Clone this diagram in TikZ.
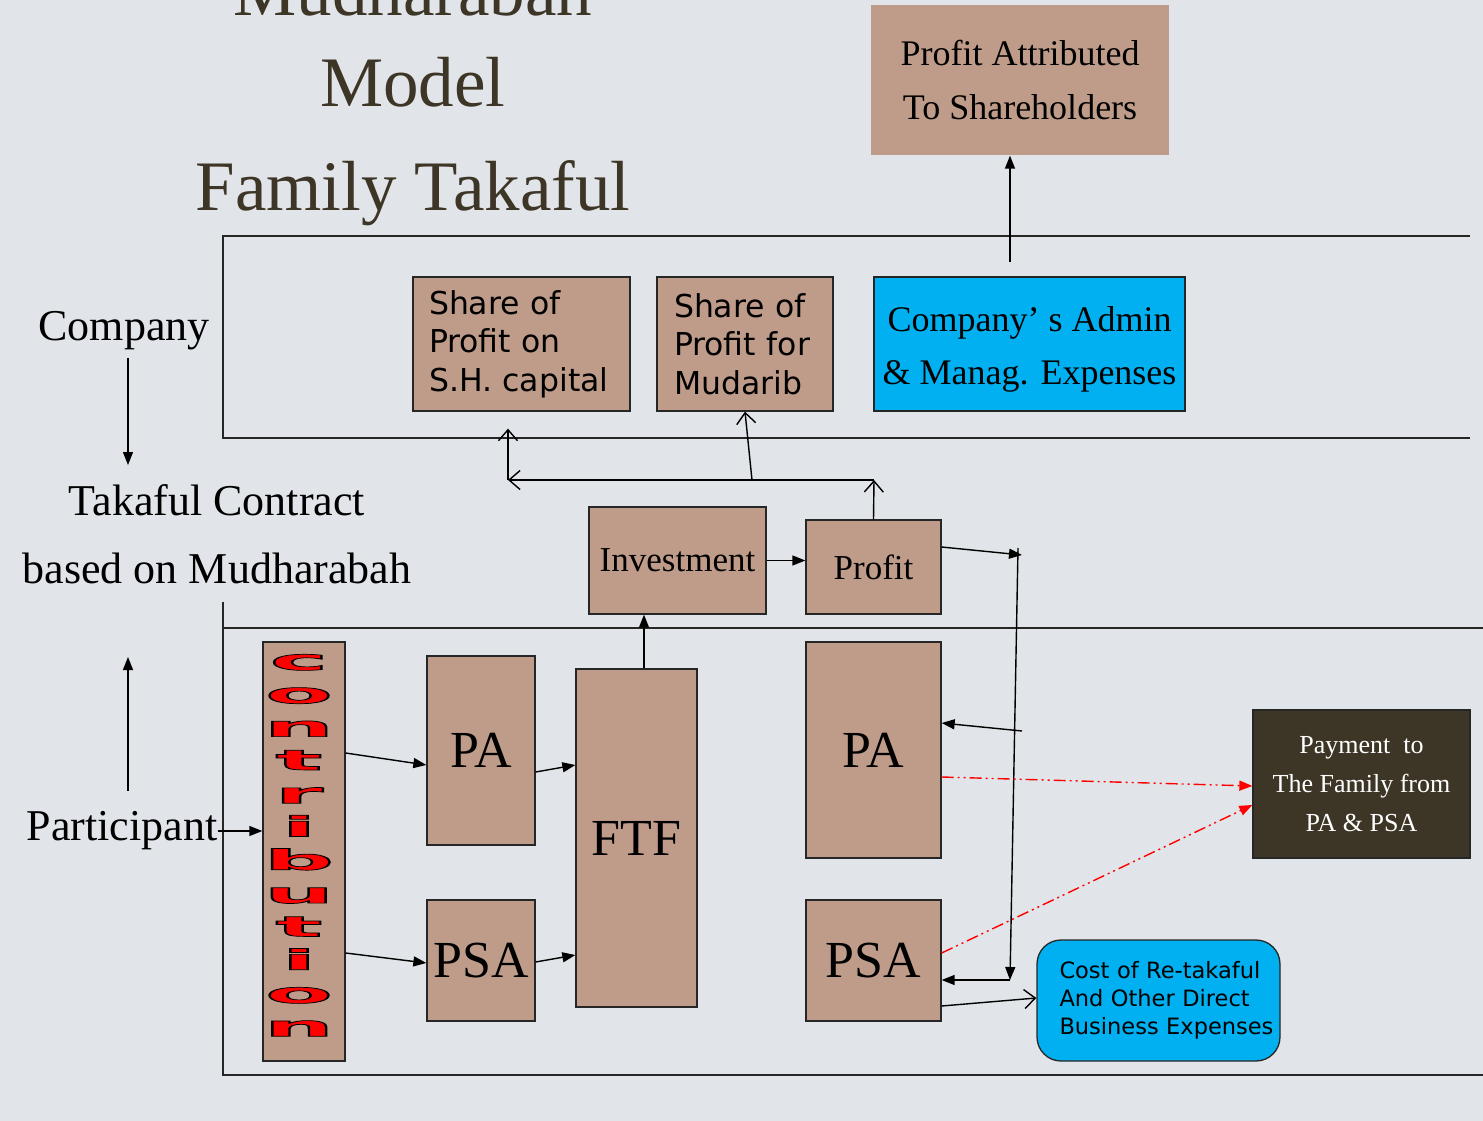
\documentclass[tikz,border=0pt]{standalone}
\usepackage{fontspec}
\setmainfont{Liberation Serif}
\newfontfamily\verdana{DejaVu Sans}
\usetikzlibrary{arrows.meta,positioning}
\definecolor{bgcol}{RGB}{225,229,233}
\definecolor{tanc}{RGB}{191,156,137}
\definecolor{skyc}{RGB}{0,176,240}
\definecolor{olivec}{RGB}{61,53,38}
% red letters with a black outline
\newcommand\outlined[1]{\special{pdf:literal direct 0 0 0 RG 0.7 w 2 Tr}#1\special{pdf:literal direct 0 Tr}}
\newcommand\fs[2]{\fontsize{#1}{#2}\selectfont}

\begin{document}
\begin{tikzpicture}[
    x=1pt, y=-1pt,
    box/.style={draw=black!85, line width=1.3pt, fill=tanc, inner sep=0pt, align=center},
    sansbox/.style={box, align=left, font=\verdana\fs{31.5}{38.5}},
    label/.style={inner sep=0pt, align=center},
    fillarr/.style={line width=1.4pt, -{Triangle[length=13pt,width=10pt]}},
    openarr/.style={line width=1.4pt, -{Straight Barb[length=11pt,width=19pt]}},
    redarr/.style={red, line width=1.4pt,
        dash pattern=on 12pt off 4pt on 2pt off 4pt on 2pt off 4pt,
        -{Triangle[length=13pt,width=10pt]}},
    region/.style={line width=1.4pt, black!85}
]
\useasboundingbox (0,0) rectangle (1483,1121);
\clip (0,0) rectangle (1483,1121);
\fill[bgcol] (0,0) rectangle (1483,1121);

% title
\begin{scope}[every node/.style={inner sep=0pt, anchor=base, text=olivec, font=\fs{71}{71}}]
\node (t1) at (413,16) {Mudharabah};
\node (t2) at (413,107) {Model};
\node (t3) at (413,210) {Family Takaful};
\end{scope}

% regions
\draw[region] (1470,236) -- (223,236) -- (223,438) -- (1470,438);
\draw[region] (1483,628) -- (223,628);
\draw[region] (223,602) -- (223,1075) -- (1483,1075);

% side labels
\node[label, font=\fs{44}{44}] (company) at (124,331) {Company};
\node[label, font=\fs{44}{68}] (takaful) at (217,534) {Takaful Contract\\based on Mudharabah};
\node[label, font=\fs{44}{44}] (participant) at (122,831) {Participant};
\coordinate (cdown) at (128,465);
\coordinate (pup) at (128,657);
\draw[fillarr] ([xshift=4pt,yshift=-7pt]company.south) -- (cdown);
\draw[fillarr] ([xshift=6pt,yshift=21pt]participant.north) -- (pup);

% company side
\node[box, draw=none, minimum width=298, minimum height=150, font=\fs{36}{54}] (attr) at (1020,80)
    {Profit Attributed\\To Shareholders};
\node[sansbox, minimum width=217, minimum height=134, text width=185] (shcap) at (521.5,344)
    {Share of\\Profit on\\S.H. capital};
\node[sansbox, minimum width=176, minimum height=134, text width=142] (mudarib) at (745,344)
    {Share of\\Profit for\\Mudarib};
\node[box, fill=skyc, minimum width=311, minimum height=134, font=\fs{36}{53}] (admin) at (1029.5,344)
    {\rule{0pt}{35pt}Company’ s Admin\\\& Manag. Expenses};

% middle
\node[box, minimum width=177, minimum height=107, font=\fs{35}{35}] (invest) at (677.5,560.5) {Investment};
\node[box, minimum width=135, minimum height=94, font=\fs{35}{35}] (profit) at (873.5,567) {Profit};

% participant side
\node[box, minimum width=82, minimum height=419] (contrib) at (304,851.5) {};
\foreach \ch [count=\k from 0] in {c,o,n,t,r,i,b,u,t,i,o,n}
    \node[inner sep=0pt, anchor=base, text=red, font=\verdana\bfseries\fs{28}{28}] (ltr\k)
        at (299,{670+33.3*\k}) {\scalebox{3.5}[1]{\outlined{\ch}}};
\node[box, minimum width=108, minimum height=189, font=\fs{52}{52}] (pa1) at (481,750.5) {PA};
\node[box, minimum width=108, minimum height=121, font=\fs{52}{52}] (psa1) at (481,960.5) {PSA};
\node[box, minimum width=121, minimum height=338, font=\fs{52}{52}] (ftf) at (636.5,838) {FTF};
\node[box, minimum width=135, minimum height=216, font=\fs{52}{52}] (pa2) at (873.5,750) {PA};
\node[box, minimum width=135, minimum height=121, font=\fs{52}{52}] (psa2) at (873.5,960.5) {PSA};
\node[box, fill=olivec, text=white, minimum width=217, minimum height=148, font=\fs{26}{39}] (pay) at (1361.5,784)
    {Payment\ \ to\\The Family from\\PA \& PSA};
\node[box, fill=skyc, rounded corners=24pt, minimum width=243, minimum height=121, text width=198,
    align=left, font=\verdana\fs{22.5}{28}] (cost) at (1158.5,1000.5)
    {\mbox{Cost of Re-takaful}\\\mbox{And Other Direct}\\\mbox{Business Expenses}};

% connectors
\coordinate (attrin) at (1010,262);
\draw[fillarr] (attrin) -- (attrin |- attr.south);
\coordinate (split) at (874,480);
\coordinate (corner) at (508,480);
\coordinate (mid) at (752,480);
\draw[openarr] (profit.north) -- (split);
\draw[openarr] (split) -- (corner);
\draw[openarr] (corner) -- ([yshift=-17pt]shcap.south -| corner);
\draw[openarr] (mid) -- (mudarib.south);
\draw[fillarr] (invest.east) -- (invest.east -| profit.west);
\draw[fillarr] (ftf.north -| 644,0) -- (invest.south -| 644,0);

\draw[fillarr] (participant.east) -- (participant.east -| contrib.west);
\draw[fillarr] ([yshift=98.5pt]contrib.east) -- ([yshift=-14.5pt]pa1.west);
\draw[fillarr] ([yshift=-101.5pt]contrib.east) -- ([yshift=-2.5pt]psa1.west);
\draw[fillarr] ([yshift=-21.5pt]pa1.east) -- ([yshift=73pt]ftf.west);
\draw[fillarr] ([yshift=-1.5pt]psa1.east) -- ([yshift=-117pt]ftf.west);

\coordinate (pin) at (1022,555);
\coordinate (vtop) at (1018,548);
\coordinate (vbot) at (1010,980);
\coordinate (vmid) at (1022,731);
\draw[fillarr] ([yshift=20pt]profit.east) -- (pin);
\draw[fillarr] (vtop) -- (vbot);
\draw[fillarr] (vbot) -- (vbot -| psa2.east);
\draw[fillarr] (vmid) -- ([yshift=27pt]pa2.east);
\draw[redarr] ([yshift=-27pt]pa2.east) -- ([yshift=-2pt]pay.west);
\draw[redarr] ([yshift=7.5pt]psa2.east) -- ([yshift=-21pt]pay.west);
\draw[openarr] ([yshift=-45.5pt]psa2.east) -- ([yshift=2.5pt]cost.west);
\end{tikzpicture}
\end{document}
